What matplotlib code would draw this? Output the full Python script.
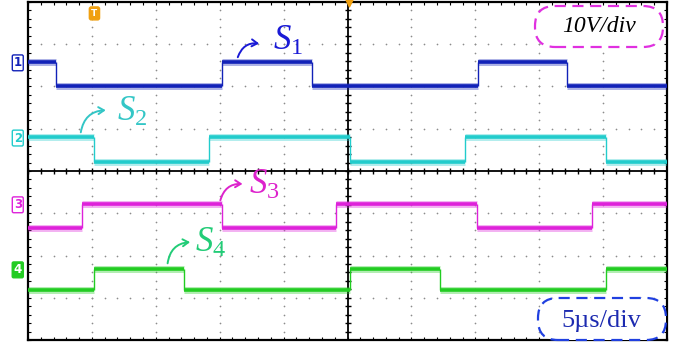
import numpy as np
import matplotlib.pyplot as plt
from matplotlib.patches import FancyBboxPatch, FancyArrowPatch

plt.rcParams['mathtext.fontset'] = 'custom'
plt.rcParams['mathtext.it'] = 'Liberation Serif:italic'
plt.rcParams['mathtext.rm'] = 'Liberation Serif'

# scope capture: 5 us/div, 10 V/div, 10 x 8 divisions
t_end = 50.0
channels = ['S1', 'S2', 'S3', 'S4']
# switching instants (us)
s1_edges = [2.2, 15.2, 22.2, 35.2, 42.2]
s2_edges = [5.2, 14.2, 25.2, 34.2, 45.2]
s3_edges = [4.2, 15.2, 24.1, 35.1, 44.1]
s4_edges = [5.2, 12.2, 25.2, 32.2, 45.2]
start_high = [True, True, False, False]
# displayed high / low levels (V, with channel offsets)
high_levels = [25.8, 8.0, -7.8, -23.2]
low_levels = [20.1, 2.1, -13.5, -28.2]
colors = ['#1222b8', '#22cccc', '#de22da', '#22cc22']
label_colors = ['#1a1ad6', '#33c6c6', '#dd22cc', '#22cc77']
labels = [r'$S_{\mathit{1}}$', r'$S_{\mathit{2}}$', r'$S_{\mathit{3}}$', r'$S_{\mathit{4}}$']
marker_text = ['1', '2', '3', '4']


def segments(edges, high, hi, lo):
    # flat parts and switching instants of one gate signal
    bounds = [0.0] + list(edges) + [t_end]
    flats = []
    state = high
    for a, b in zip(bounds[:-1], bounds[1:]):
        flats.append((a, b, hi if state else lo))
        state = not state
    return flats


fig = plt.figure(figsize=(6.79, 3.46), dpi=100)
ax = fig.add_axes([28 / 679, 1 - 340 / 346, 639 / 679, 338 / 346])
ax.set_xlim(0, t_end)
ax.set_ylim(-40, 40)

# dotted graticule
for gx in np.arange(5, 50, 5):
    yy = np.arange(-40, 40.1, 2)
    ax.scatter(np.full_like(yy, gx), yy, s=1.5, color='#8c8c8c', lw=0, zorder=1)
for gy in np.arange(-30, 40, 10):
    xx = np.arange(0, 50.1, 1)
    ax.scatter(xx, np.full_like(xx, gy), s=1.5, color='#8c8c8c', lw=0, zorder=1)

# centre cross with minor ticks
ax.axhline(0, color='black', lw=1.3, zorder=2)
ax.axvline(25, color='black', lw=1.3, zorder=2)
xt = np.arange(0, 50.1, 1)
ax.plot(xt, np.zeros_like(xt), ls='none', marker='|', ms=5, mew=1, color='black', zorder=2)
yt = np.arange(-40, 40.1, 2)
ax.plot(np.full_like(yt, 25), yt, ls='none', marker='_', ms=5, mew=1, color='black', zorder=2)

ax.set_xticks(np.arange(0, 50.1, 1))
ax.set_yticks(np.arange(-40, 40.1, 2))
ax.tick_params(direction='in', length=2.5, width=0.8, top=True, right=True,
               labelbottom=False, labelleft=False)
for sp in ax.spines.values():
    sp.set_linewidth(1.6)

edges_all = [s1_edges, s2_edges, s3_edges, s4_edges]
for i in range(4):
    flats = segments(edges_all[i], start_high[i], high_levels[i], low_levels[i])
    xs0 = [f[0] for f in flats]
    xs1 = [f[1] for f in flats]
    ys = [f[2] for f in flats]
    ax.hlines(ys, xs0, xs1, color=colors[i], lw=5.0, alpha=0.35, zorder=3)
    ax.hlines(ys, xs0, xs1, color=colors[i], lw=2.6, zorder=4)
    ax.vlines(edges_all[i], low_levels[i], high_levels[i], color=colors[i], lw=1.0, zorder=4)

# channel markers on the left
for i in range(4):
    filled = i == 3
    ax.text(-0.8, high_levels[i] - 0.2, marker_text[i], transform=ax.transData,
            ha='center', va='center', fontsize=8.5, fontweight='bold',
            color='white' if filled else colors[i], clip_on=False,
            bbox=dict(boxstyle='round,pad=0.12', fc=colors[i] if filled else 'white',
                      ec=colors[i], lw=1))

# trigger markers
ax.text(5.2, 37.3, 'T', ha='center', va='center', fontsize=6.5, fontweight='bold',
        color='white', bbox=dict(boxstyle='round,pad=0.22', fc='#f0a010', ec='#f0a010'))
ax.scatter([25.1], [40], marker='v', s=40, color='#f0a010', zorder=6, clip_on=False)

# signal labels with curved arrows
arrow_from = [(16.35, 26.3), (4.1, 8.5), (15.0, -7.6), (10.9, -22.5)]
arrow_to = [(18.3, 30.1), (6.3, 14.4), (17.0, -3.1), (12.9, -16.8)]
label_pos = [(19.2, 31.0), (7.0, 14.3), (17.3, -3.0), (13.1, -16.8)]
for i in range(4):
    ax.add_patch(FancyArrowPatch(arrow_from[i], arrow_to[i],
                                 connectionstyle='arc3,rad=-0.45',
                                 arrowstyle='->,head_length=4,head_width=2.5',
                                 color=label_colors[i], lw=1.4, zorder=5))
    ax.text(label_pos[i][0], label_pos[i][1], labels[i], color=label_colors[i],
            fontsize=25, ha='left', va='center', zorder=5)

# scale boxes, placed in figure inches so the corners stay round
box1 = FancyBboxPatch((5.35, 2.99), 1.28, 0.41, boxstyle='round,pad=0,rounding_size=0.2',
                      transform=fig.dpi_scale_trans, fc='white', ec='#e030e0', lw=1.6,
                      ls=(0, (5, 3)), zorder=5)
fig.patches.append(box1)
fig.text(5.995 / 6.79, 3.19 / 3.46, '10V/div', family='Liberation Serif', style='italic',
         fontsize=17, ha='center', va='center', zorder=6)
box2 = FancyBboxPatch((5.38, 0.06), 1.28, 0.42, boxstyle='round,pad=0,rounding_size=0.2',
                      transform=fig.dpi_scale_trans, fc='white', ec='#2040e0', lw=1.6,
                      ls=(0, (5, 3)), zorder=5)
fig.patches.append(box2)
fig.text(6.01 / 6.79, 0.25 / 3.46, '5µs/div', family='Liberation Serif', color='#1c2ab0',
         fontsize=19, ha='center', va='center', zorder=6)

fig.savefig('out.png', dpi=100)
